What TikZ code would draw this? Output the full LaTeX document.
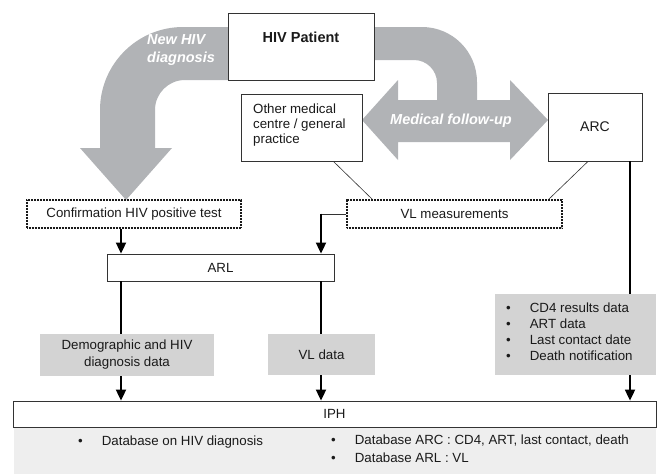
\documentclass[tikz,border=0pt]{standalone}
\usepackage{fontspec}
\setmainfont{Liberation Sans}
\usetikzlibrary{arrows.meta,calc}
\definecolor{arrowgray}{HTML}{B1B3B6}
\definecolor{boxgray}{HTML}{D3D3D3}
\definecolor{dbgray}{HTML}{EEEEEE}
\definecolor{inkc}{HTML}{1A1A1A}
\begin{document}
\begin{tikzpicture}[x=1pt,y=-1pt,
  every node/.style={font=\fontsize{13.3}{16}\selectfont, text=inkc},
  box/.style={draw=black!80, line width=0.8pt, fill=white, inner sep=0},
  dotbox/.style={draw=black!90, line width=1.6pt, dash pattern=on 0.9pt off 0.6pt, fill=white, inner sep=0},
  graybox/.style={fill=boxgray, inner sep=0, align=center},
  arr/.style={line width=1.8pt, draw=black, -{Triangle[length=11pt,width=10pt]}},
  thinline/.style={line width=0.6pt, draw=black!80},
  bigtext/.style={font=\fontsize{14.5}{18}\selectfont\bfseries\itshape, text=white, align=left, inner sep=0}
]
\useasboundingbox (0,0) rectangle (658,475);

% big grey arrows
\fill[arrowgray] (240,27) -- (183,27) .. controls (137.2,27) and (100,64.2) .. (100,110)
  -- (100,148) -- (80,148) -- (126,200) -- (172,148) -- (155,148) -- (155,110)
  .. controls (155,93.4) and (168.4,80) .. (185,80) -- (240,80) -- cycle;
\fill[arrowgray] (362,120) -- (398,80) -- (398,100) -- (437,100) -- (437,83)
  .. controls (437,70.3) and (426.7,60) .. (414,60) -- (360,60) -- (360,27) -- (422,27)
  .. controls (452.4,27) and (477,51.6) .. (477,82) -- (477,100) -- (510,100) -- (510,80)
  -- (548,120) -- (510,160) -- (510,142) -- (398,142) -- (398,160) -- cycle;
\node[bigtext, anchor=west] (newdiag) at (147,50) {New HIV\\diagnosis};
\node[bigtext, anchor=center] (follow) at (451,121) {Medical follow-up};

% boxes
\node[box, minimum width=146pt, minimum height=67pt] (hiv) at (301,46.5) {};
\node[font=\fontsize{14.5}{18}\selectfont\bfseries] (hivt) at (301,37) {HIV Patient};
\node[box, minimum width=121pt, minimum height=67pt] (other) at (301.5,127.5) {};
\node[anchor=north west, align=left, inner sep=0, font=\fontsize{13.3}{15}\selectfont] (othert) at (253,104) {Other medical\\centre / general\\practice};
\node[box, minimum width=94pt, minimum height=68pt, font=\fontsize{14}{16}\selectfont] (arc) at (595,127) {ARC};
\node[dotbox, minimum width=214pt, minimum height=28pt] (conf) at (134,214) {Confirmation HIV positive test};
\node[dotbox, minimum width=215pt, minimum height=28pt] (vlm) at (454.5,214) {VL measurements};
\node[box, minimum width=227pt, minimum height=27pt] (arl) at (220.5,267.5) {ARL};
\node[fill=dbgray, minimum width=642pt, minimum height=47pt, inner sep=0] (db) at (335,450.5) {};
\node[box, minimum width=643pt, minimum height=26pt] (iph) at (334.5,414) {IPH};

% helper coordinates for connector x positions
\coordinate (c1) at (121,0);
\coordinate (c2) at (321,0);
\coordinate (c3) at (630,0);

% thin connectors
\draw[thinline] ([xshift=-29pt]other.south east) -- ([xshift=26pt]vlm.north west);
\draw[thinline] ([xshift=-7pt]arc.south) -- ([xshift=-14pt]vlm.north east);

% arrows
\draw[arr] (conf.south -| c1) -- (arl.north -| c1);
\draw[thinline] (vlm.west) -- ([xshift=-0.9pt]vlm.west -| c2);
\draw[arr] ([yshift=0.3pt]vlm.west -| c2) -- (arl.north -| c2);
\draw[arr] (arl.south -| c1) -- (iph.north -| c1);
\draw[arr] (arl.south -| c2) -- (iph.north -| c2);
\draw[arr] (arc.south -| c3) -- (iph.north -| c3);

% grey data boxes
\node[graybox, minimum width=174pt, minimum height=42pt, font=\fontsize{13.3}{17}\selectfont] (dem) at (127,355) {Demographic and HIV\\diagnosis data};
\node[graybox, minimum width=107pt, minimum height=41pt] (vld) at (321.5,354.5) {VL data};
\node[graybox, minimum width=161pt, minimum height=81pt] (arcd) at (575.5,334.5) {};
\node[anchor=west, inner sep=0] (arcdt) at (506,333) {\begin{tabular}{@{}l@{\hspace{19pt}}l@{}}
\textbullet & CD4 results data\\
\textbullet & ART data\\
\textbullet & Last contact date\\
\textbullet & Death notification
\end{tabular}};

% database texts
\node[anchor=west, inner sep=0] (db1) at (78,442) {\textbullet\hspace{19pt}Database on HIV diagnosis};
\node[anchor=west, inner sep=0, font=\fontsize{13.3}{18}\selectfont] (db2) at (331,450) {\begin{tabular}{@{}l@{\hspace{19pt}}l@{}}
\textbullet & Database ARC : CD4, ART, last contact, death\\
\textbullet & Database ARL : VL
\end{tabular}};
\end{tikzpicture}
\end{document}
